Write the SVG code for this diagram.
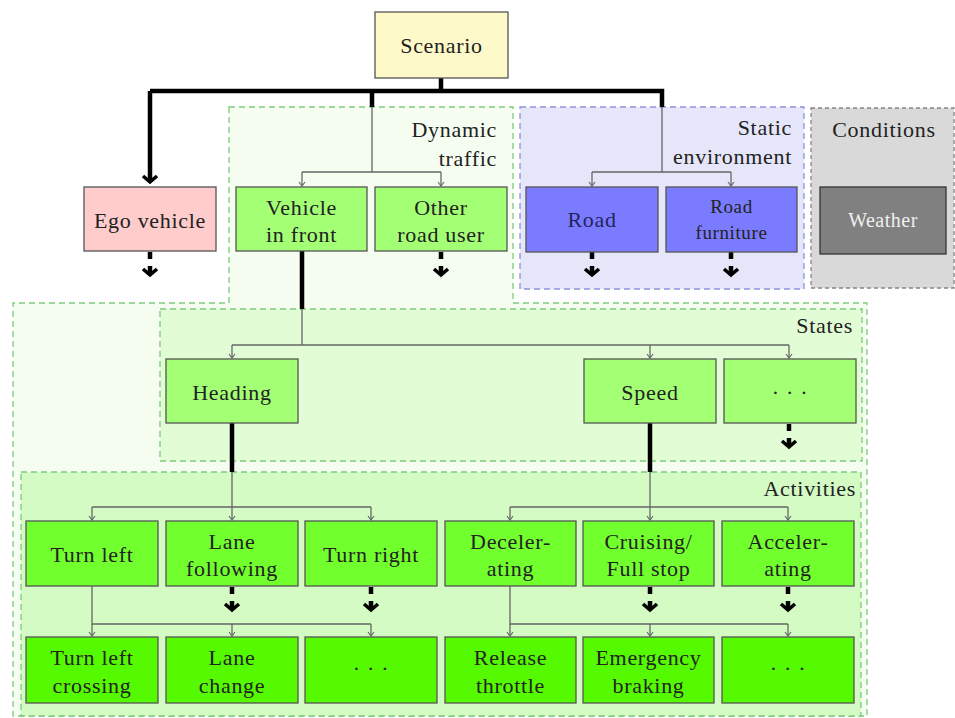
<svg xmlns="http://www.w3.org/2000/svg" width="955" height="718" viewBox="0 0 955 718">
  <style>
    text { font-family: "Liberation Serif", "Times New Roman", serif; font-size: 22px; letter-spacing: 0.7px; fill: #222; text-anchor: middle; }
    .lbl { text-anchor: end; }
    .box { stroke: #555; stroke-width: 1.3; }
    .scen { fill: #fdf9c9; }
    .ego { fill: #ffcccc; }
    .obj { fill: #a3ff74; }
    .env { fill: #7b7bff; }
    .act { fill: #72ff2e; }
    .sub { fill: #55fa00; }
    .wx { fill: #808080; stroke: #333; stroke-width: 1.3; }
    .frame { stroke: #7cca7c; stroke-width: 1.3; stroke-dasharray: 6,4; }
    .thick { stroke: #000; stroke-width: 4.5; fill: none; }
    .thin { stroke: #666; stroke-width: 1.3; fill: none; }
    .tip { stroke: #666; stroke-width: 1.3; fill: none; marker-end: url(#thinTip); }
    .stub { stroke: #000; stroke-width: 4.5; fill: none; marker-end: url(#thickTip); }
  </style>
  <defs>
    <marker id="thinTip" viewBox="-6 -5 8 10" refX="0" refY="0" markerWidth="8" markerHeight="10" markerUnits="userSpaceOnUse" orient="auto">
      <path d="M-4,-3 L0,0 L-4,3" stroke="#666" stroke-width="1.1" fill="none"/>
    </marker>
    <marker id="thickTip" viewBox="-10 -10 14 20" refX="0" refY="0" markerWidth="14" markerHeight="20" markerUnits="userSpaceOnUse" orient="auto">
      <path d="M-6,-7 L0,0 L-6,7" stroke="#000" stroke-width="3.6" fill="none"/>
    </marker>
  </defs>

  <!-- grouping frames -->
  <g id="frames">
    <path class="frame" d="M229,107 H513 V303 H867 V716 H13 V303 H229 Z" fill="#f5fdf1"/>
    <rect class="frame" x="160" y="309" width="702" height="152" fill="#e2fcd6"/>
    <rect class="frame" x="21" y="472" width="840" height="244" fill="#d4fbc4"/>
    <rect x="520" y="107" width="284" height="182" fill="#e6e6fa" stroke="#9191dc" stroke-width="1.3" stroke-dasharray="6,4"/>
    <rect x="811" y="108" width="143" height="180" fill="#d9d9d9" stroke="#858585" stroke-width="1.3" stroke-dasharray="4,3"/>
    <text class="lbl" x="497" y="137">Dynamic</text>
    <text class="lbl" x="497" y="166">traffic</text>
    <text class="lbl" x="792" y="135">Static</text>
    <text class="lbl" x="792" y="164">environment</text>
    <text x="884" y="137">Conditions</text>
    <text class="lbl" x="853" y="333">States</text>
    <text class="lbl" x="856" y="496">Activities</text>
  </g>

  <!-- connectors -->
  <g id="connectors">
    <path class="thick" d="M441,78 V91 M150,91 H662 V107 M372,91 V107"/>
    <path class="thick" d="M150,91 V182" marker-end="url(#thickTip)"/>
    <path class="thin" d="M372,107 V172 M302,172 H441"/>
    <path class="tip" d="M302,172 V186"/>
    <path class="tip" d="M441,172 V186"/>
    <path class="thin" d="M662,107 V172 M592,172 H731"/>
    <path class="tip" d="M592,172 V186"/>
    <path class="tip" d="M731,172 V186"/>

    <path class="thick" d="M302,251 V309"/>
    <path class="thin" d="M302,309 V345 M232,345 H789"/>
    <path class="tip" d="M232,345 V358"/>
    <path class="tip" d="M650,345 V358"/>
    <path class="tip" d="M789,345 V358"/>

    <path class="thick" d="M232,423 V472"/>
    <path class="thin" d="M232,472 V507 M92,507 H371"/>
    <path class="tip" d="M92,507 V520"/>
    <path class="tip" d="M232,507 V520"/>
    <path class="tip" d="M371,507 V520"/>

    <path class="thick" d="M650,423 V472"/>
    <path class="thin" d="M650,472 V507 M510,507 H788"/>
    <path class="tip" d="M510,507 V520"/>
    <path class="tip" d="M650,507 V520"/>
    <path class="tip" d="M788,507 V520"/>

    <path class="thin" d="M92,586 V624 H371"/>
    <path class="tip" d="M92,624 V636"/>
    <path class="tip" d="M232,624 V636"/>
    <path class="tip" d="M371,624 V636"/>
    <path class="thin" d="M510,586 V624 H788"/>
    <path class="tip" d="M510,624 V636"/>
    <path class="tip" d="M650,624 V636"/>
    <path class="tip" d="M788,624 V636"/>

    <!-- collapsed branches -->
    <path class="stub" d="M150,252 V259 M150,266 V275"/>
    <path class="stub" d="M441,252 V259 M441,266 V275"/>
    <path class="stub" d="M592,252 V259 M592,266 V275"/>
    <path class="stub" d="M731,252 V259 M731,266 V275"/>
    <path class="stub" d="M789,424 V431 M789,438 V447"/>
    <path class="stub" d="M232,587 V594 M232,601 V610"/>
    <path class="stub" d="M371,587 V594 M371,601 V610"/>
    <path class="stub" d="M650,587 V594 M650,601 V610"/>
    <path class="stub" d="M788,587 V594 M788,601 V610"/>
  </g>

  <g id="scenario"><rect class="box scen" x="375" y="12" width="133" height="66"/><text x="441.5" y="53">Scenario</text></g>
  <g id="ego-vehicle"><rect class="box ego" x="84" y="187" width="132" height="64"/><text x="150" y="228">Ego vehicle</text></g>
  <g id="vehicle-in-front"><rect class="box obj" x="236" y="187" width="131" height="64"/><text x="301.5" y="215">Vehicle</text><text x="301.5" y="242">in front</text></g>
  <g id="other-road-user"><rect class="box obj" x="375" y="187" width="132" height="64"/><text x="441" y="215">Other</text><text x="441" y="242">road user</text></g>
  <g id="road"><rect class="box env" x="526" y="187" width="132" height="65"/><text x="592" y="227" style="fill:#24245a">Road</text></g>
  <g id="road-furniture"><rect class="box env" x="666" y="187" width="131" height="65"/><text x="731.5" y="213" style="font-size:19px;letter-spacing:0.6px">Road</text><text x="731.5" y="239" style="font-size:19px;letter-spacing:0.6px">furniture</text></g>
  <g id="weather"><rect class="wx" x="820" y="187" width="126" height="67"/><text x="883" y="227" style="fill:#f0f0f0;font-size:20px;letter-spacing:0.5px">Weather</text></g>

  <g id="heading"><rect class="box obj" x="166" y="359" width="132" height="64"/><text x="232" y="400">Heading</text></g>
  <g id="speed"><rect class="box obj" x="584" y="359" width="132" height="64"/><text x="650" y="400">Speed</text></g>
  <g id="state-more"><rect class="box obj" x="724" y="359" width="132" height="64"/><text x="790" y="400">· · ·</text></g>

  <g id="turn-left"><rect class="box act" x="26" y="521" width="132" height="65"/><text x="92" y="562">Turn left</text></g>
  <g id="lane-following"><rect class="box act" x="166" y="521" width="132" height="65"/><text x="232" y="549">Lane</text><text x="232" y="576">following</text></g>
  <g id="turn-right"><rect class="box act" x="305" y="521" width="132" height="65"/><text x="371" y="562">Turn right</text></g>
  <g id="decelerating"><rect class="box act" x="445" y="521" width="131" height="65"/><text x="510.5" y="549">Deceler-</text><text x="510.5" y="576">ating</text></g>
  <g id="cruising"><rect class="box act" x="583" y="521" width="131" height="65"/><text x="648.5" y="549">Cruising/</text><text x="648.5" y="576">Full stop</text></g>
  <g id="accelerating"><rect class="box act" x="722" y="521" width="132" height="65"/><text x="788" y="549">Acceler-</text><text x="788" y="576">ating</text></g>

  <g id="turn-left-crossing"><rect class="box sub" x="26" y="637" width="132" height="66"/><text x="92" y="665">Turn left</text><text x="92" y="693">crossing</text></g>
  <g id="lane-change"><rect class="box sub" x="166" y="637" width="132" height="66"/><text x="232" y="665">Lane</text><text x="232" y="693">change</text></g>
  <g id="lateral-more"><rect class="box sub" x="305" y="637" width="132" height="66"/><text x="371" y="676">· · ·</text></g>
  <g id="release-throttle"><rect class="box sub" x="445" y="637" width="131" height="66"/><text x="510.5" y="665">Release</text><text x="510.5" y="693">throttle</text></g>
  <g id="emergency-braking"><rect class="box sub" x="583" y="637" width="131" height="66"/><text x="648.5" y="665">Emergency</text><text x="648.5" y="693">braking</text></g>
  <g id="longitudinal-more"><rect class="box sub" x="722" y="637" width="132" height="66"/><text x="788" y="676">· · ·</text></g>
</svg>
